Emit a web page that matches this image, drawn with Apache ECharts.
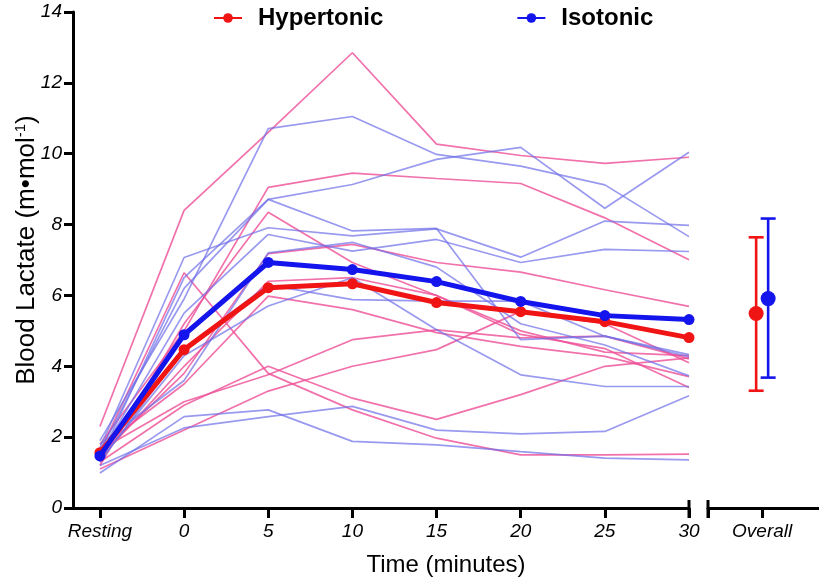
<!DOCTYPE html>
<html><head><meta charset="utf-8">
<script src="https://cdn.jsdelivr.net/npm/echarts@6/dist/echarts.min.js"></script>
<style>html,body{margin:0;padding:0;background:#fff}#c{width:819px;height:580px}</style>
</head><body><div id="c"></div>
<script>
// ---------- DATA ----------
const categories = ['Resting', '0', '5', '10', '15', '20', '25', '30'];
const overallLabel = 'Overall';
const yTicks = [0, 2, 4, 6, 8, 10, 12, 14];

const hyperMean = [1.56, 4.47, 6.22, 6.33, 5.80, 5.54, 5.26, 4.81];
const isoMean   = [1.47, 4.89, 6.93, 6.73, 6.39, 5.83, 5.43, 5.32];

const hyperOverall = [5.49, 3.31, 7.64]; // mean, low, high
const isoOverall   = [5.91, 3.68, 8.17];

const h1  = [2.30, 8.40, 10.60, 12.85, 10.27, 9.95, 9.73, 9.90];
const h2  = [1.80, 5.00, 9.05, 9.45, 9.30, 9.16, 8.19, 7.01];
const h3  = [1.50, 3.80, 7.18, 7.44, 6.93, 6.66, 6.16, 5.69];
const h4  = [1.20, 5.20, 8.35, 6.93, 6.00, 4.90, 4.50, 3.40];
const h5  = [1.40, 4.00, 6.40, 6.50, 6.00, 5.00, 4.40, 4.30];
const h6  = [1.70, 3.50, 5.98, 5.60, 4.95, 4.56, 4.28, 3.71];
const h7  = [1.64, 3.00, 3.76, 4.75, 5.03, 4.80, 4.85, 4.21];
const h8  = [1.10, 2.20, 3.30, 4.00, 4.47, 5.55, 5.20, 4.10];
const h9  = [1.30, 2.90, 4.00, 3.10, 2.50, 3.20, 4.00, 4.24];
const h10 = [1.60, 6.64, 3.80, 2.77, 1.97, 1.50, 1.50, 1.52];
const hyperLines = [h1, h2, h3, h4, h5, h6, h7, h8, h9, h10];

const i1  = [1.90, 5.90, 10.71, 11.05, 9.98, 9.65, 9.12, 7.66];
const i2  = [1.60, 6.20, 8.71, 9.13, 9.84, 10.18, 8.46, 10.04];
const i3  = [1.40, 6.50, 8.71, 7.82, 7.89, 4.75, 4.85, 4.33];
const i4  = [1.70, 7.07, 7.91, 7.68, 7.88, 7.08, 8.10, 7.98];
const i5  = [1.20, 2.26, 2.58, 2.87, 2.20, 2.09, 2.16, 3.17];
const i6  = [0.99, 2.58, 2.77, 1.88, 1.78, 1.59, 1.41, 1.36];
const i7  = [1.50, 5.50, 7.72, 7.25, 7.58, 6.93, 7.30, 7.24];
const i8  = [1.30, 4.50, 6.30, 5.88, 5.84, 5.84, 4.85, 4.27];
const i9  = [1.80, 3.60, 7.20, 7.50, 6.80, 5.20, 4.60, 3.73];
const i10 = [1.35, 4.30, 5.70, 6.50, 5.03, 3.76, 3.43, 3.43];
const isoLines = [i1, i2, i3, i4, i5, i6, i7, i8, i9, i10];

// ---------- STYLE ----------
const FONT = '"Liberation Sans", Arial, sans-serif';
const RED = '#f01414';
const BLUE = '#1414ec';
const PINK = 'rgba(238,78,150,0.80)';
const LAV = 'rgba(110,110,232,0.70)';
const OFF = 6;

const chart = echarts.init(document.getElementById('c'));
const pts = arr => arr.map((v, i) => [i, v]);
const xIdx = categories.map((_, i) => i);

const series = [];
hyperLines.forEach((arr, k) => series.push({
  type: 'line', name: 'H' + (k + 1), xAxisIndex: 0, yAxisIndex: 0, data: pts(arr),
  symbol: 'none', silent: true, z: 2, lineStyle: { color: PINK, width: 1.7 }, animation: false
}));
isoLines.forEach((arr, k) => series.push({
  type: 'line', name: 'I' + (k + 1), xAxisIndex: 0, yAxisIndex: 0, data: pts(arr),
  symbol: 'none', silent: true, z: 2, lineStyle: { color: LAV, width: 1.7 }, animation: false
}));
series.push({
  type: 'line', name: 'Hypertonic', xAxisIndex: 0, yAxisIndex: 0, data: pts(hyperMean),
  symbol: 'circle', symbolSize: 11, z: 10, itemStyle: { color: RED },
  lineStyle: { color: RED, width: 5 }, animation: false
});
series.push({
  type: 'line', name: 'Isotonic', xAxisIndex: 0, yAxisIndex: 0, data: pts(isoMean),
  symbol: 'circle', symbolSize: 11, z: 11, itemStyle: { color: BLUE },
  lineStyle: { color: BLUE, width: 5 }, animation: false
});

function errBar(vals, color, off) {
  return {
    type: 'custom', xAxisIndex: 1, yAxisIndex: 1, z: 5, silent: true, animation: false,
    data: [[0, vals[1], vals[2]]],
    renderItem(params, api) {
      const lo = api.coord([api.value(0), api.value(1)]);
      const hi = api.coord([api.value(0), api.value(2)]);
      const x = lo[0] + off;
      const st = { stroke: color, lineWidth: 2.6 };
      return { type: 'group', children: [
        { type: 'line', shape: { x1: x, y1: lo[1], x2: x, y2: hi[1] }, style: st },
        { type: 'line', shape: { x1: x - 7.5, y1: lo[1], x2: x + 7.5, y2: lo[1] }, style: st },
        { type: 'line', shape: { x1: x - 7.5, y1: hi[1], x2: x + 7.5, y2: hi[1] }, style: st }
      ]};
    }
  };
}
series.push(errBar(hyperOverall, RED, -OFF));
series.push(errBar(isoOverall, BLUE, OFF));
series.push({ type: 'scatter', name: 'HO', xAxisIndex: 1, yAxisIndex: 1, data: [[0, hyperOverall[0]]],
  symbolSize: 15, symbolOffset: [-OFF, 0], itemStyle: { color: RED, opacity: 1 }, z: 6, animation: false });
series.push({ type: 'scatter', name: 'IO', xAxisIndex: 1, yAxisIndex: 1, data: [[0, isoOverall[0]]],
  symbolSize: 15, symbolOffset: [OFF, 0], itemStyle: { color: BLUE, opacity: 1 }, z: 6, animation: false });

const axisLineStyle = { show: true, onZero: false, lineStyle: { color: '#000', width: 3 } };
const tickStyle = { show: true, length: 10, lineStyle: { color: '#000', width: 3 } };
const xLabelStyle = { margin: 14, fontSize: 19, fontStyle: 'italic', color: '#000', fontFamily: FONT };

const option = {
  backgroundColor: '#fff',
  animation: false,
  legend: {
    data: ['Hypertonic', 'Isotonic'], left: 208, top: 1, itemWidth: 28, itemHeight: 12, itemGap: 133,
    textStyle: { fontSize: 24, fontWeight: 'bold', color: '#000', fontFamily: FONT, padding: [0, 0, 0, 11] }
  },
  grid: [
    { left: 73, top: 12, width: 616, height: 496, containLabel: false, outerBoundsMode: 'none' },
    { left: 708, top: 12, width: 111, height: 496, containLabel: false, outerBoundsMode: 'none' }
  ],
  xAxis: [
    { type: 'value', gridIndex: 0, min: -0.32, max: 7,
      axisLine: axisLineStyle,
      axisTick: Object.assign({ customValues: xIdx }, tickStyle),
      axisLabel: Object.assign({ customValues: xIdx, formatter: v => categories[Math.round(v)] }, xLabelStyle),
      splitLine: { show: false } },
    { type: 'value', gridIndex: 1, min: -1, max: 1.05,
      axisLine: axisLineStyle,
      axisTick: Object.assign({ customValues: [-1, 0] }, tickStyle),
      axisLabel: Object.assign({ customValues: [0], formatter: () => overallLabel }, xLabelStyle),
      splitLine: { show: false } }
  ],
  yAxis: [
    { type: 'value', gridIndex: 0, min: yTicks[0], max: yTicks[yTicks.length - 1], interval: 2,
      axisLine: axisLineStyle, axisTick: Object.assign({}, tickStyle, { length: 9 }),
      axisLabel: { fontSize: 19, fontStyle: 'italic', color: '#000', fontFamily: FONT, margin: 11 },
      splitLine: { show: false },
      name: '{t|Blood Lactate (m•mol}{s|-1}{t|)}', nameLocation: 'middle', nameGap: 32,
      nameMoveOverlap: false,
      nameTextStyle: { color: '#000', fontFamily: FONT, padding: [0, 0, 0, 20],
        rich: { t: { fontSize: 26, color: '#000', fontFamily: FONT, lineHeight: 28 },
                s: { fontSize: 15, color: '#000', fontFamily: FONT, verticalAlign: 'top', lineHeight: 28 } } } },
    { type: 'value', gridIndex: 1, min: yTicks[0], max: yTicks[yTicks.length - 1], show: false }
  ],
  graphic: [],
  series: series
};
chart.setOption(option);

// axis-break end caps and shared x-axis title centred under both segments
const p30 = chart.convertToPixel({ xAxisIndex: 0, yAxisIndex: 0 }, [7, 0]);
const pSt = chart.convertToPixel({ xAxisIndex: 1, yAxisIndex: 1 }, [-1, 0]);
const pEnd = chart.convertToPixel({ xAxisIndex: 1, yAxisIndex: 1 }, [1.05, 0]);
const pOrg = chart.convertToPixel({ xAxisIndex: 0, yAxisIndex: 0 }, [-0.32, 0]);
const cap = p => ({ type: 'line', shape: { x1: p[0], y1: p[1] - 8, x2: p[0], y2: p[1] + 10 },
  style: { stroke: '#000', lineWidth: 3 }, z: 100 });
chart.setOption({ graphic: [cap(p30), cap(pSt),
  { type: 'text', x: (pOrg[0] + pEnd[0]) / 2, y: pOrg[1] + 57, z: 100,
    style: { text: 'Time (minutes)', fill: '#000', font: '24px ' + FONT, align: 'center', verticalAlign: 'middle' } }
]});
</script></body></html>
